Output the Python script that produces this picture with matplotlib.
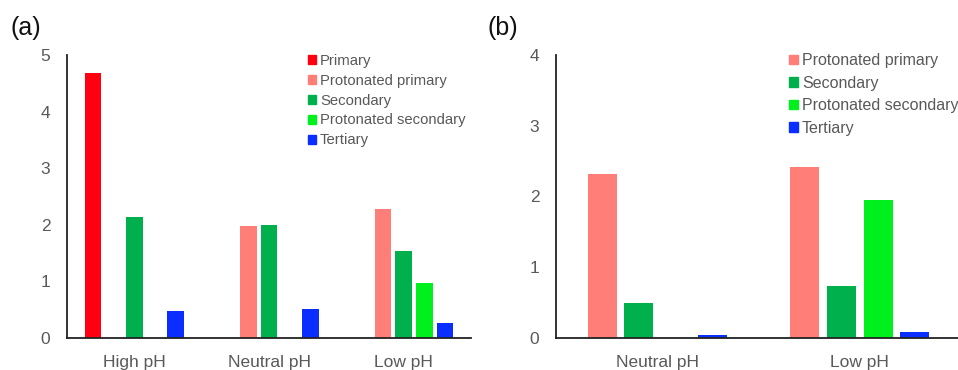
import numpy as np
import matplotlib
matplotlib.use('Agg')
import matplotlib.pyplot as plt
from matplotlib.patches import Patch

plt.rcParams['font.family'] = ['Liberation Sans', 'DejaVu Sans']

# panel (a)
groups_a = ['High pH', 'Neutral pH', 'Low pH']
series_a = ['Primary', 'Protonated primary', 'Secondary', 'Protonated secondary', 'Tertiary']
primary_a = [4.68, 0, 0]
prot_primary_a = [0, 1.97, 2.28]
secondary_a = [2.13, 1.99, 1.53]
prot_secondary_a = [0, 0, 0.98]
tertiary_a = [0.48, 0.51, 0.26]

# panel (b)
groups_b = ['Neutral pH', 'Low pH']
series_b = ['Protonated primary', 'Secondary', 'Protonated secondary', 'Tertiary']
prot_primary_b = [2.32, 2.42]
secondary_b = [0.50, 0.74]
prot_secondary_b = [0, 1.95]
tertiary_b = [0.04, 0.09]

colors = {
    'Primary': '#FF0010',
    'Protonated primary': '#FF7F78',
    'Secondary': '#00B04C',
    'Protonated secondary': '#00F01E',
    'Tertiary': '#0A2EFF',
}
textcol = '#595959'

fig = plt.figure(figsize=(9.58, 3.70), dpi=100)
ax1 = fig.add_axes([67/958, 1-338/370, 404/958, 283/370])
ax2 = fig.add_axes([556/958, 1-338/370, 405/958, 283/370])


def draw(ax, groups, names, data, slot, width, ymax, fs_leg, leg_pos, spacing):
    x = np.arange(len(groups))
    n = len(names)
    for i, (name, vals) in enumerate(zip(names, data)):
        off = (i - (n - 1) / 2) * slot
        ax.bar(x + off, vals, width, color=colors[name], label=name, zorder=2)
    ax.set_xlim(-0.5, len(groups) - 0.5)
    ax.set_ylim(0, ymax)
    ax.set_yticks(range(ymax + 1))
    ax.set_xticks(x)
    ax.set_xticklabels(groups)
    ax.tick_params(length=0, labelsize=12.5, colors=textcol)
    ax.tick_params(axis='y', pad=12)
    ax.tick_params(axis='x', pad=12)
    for s in ['top', 'right']:
        ax.spines[s].set_visible(False)
    for s in ['left', 'bottom']:
        ax.spines[s].set_color('#222222')
        ax.spines[s].set_linewidth(1.3)
    handles = [Patch(color=colors[nm], label=nm) for nm in names]
    leg = fig.legend(handles=handles, loc='upper left', bbox_to_anchor=leg_pos,
                     bbox_transform=fig.transFigure, frameon=False,
                     fontsize=fs_leg, handlelength=0.55, handleheight=0.55,
                     handletextpad=0.25, labelspacing=spacing, borderpad=0,
                     borderaxespad=0)
    for t in leg.get_texts():
        t.set_color(textcol)


draw(ax1, groups_a, series_a,
     [primary_a, prot_primary_a, secondary_a, prot_secondary_a, tertiary_a],
     0.1536, 0.1225, 5, 10.75, (308/958, 1-54/370), 0.39)
draw(ax2, groups_b, series_b,
     [prot_primary_b, secondary_b, prot_secondary_b, tertiary_b],
     0.1806, 0.143, 4, 11.5, (789/958, 1-53/370), 0.47)

fig.text(11/958, 1-28/370, '(a)', fontsize=18, va='center', ha='left', color='#111111')
fig.text(487/958, 1-28/370, '(b)', fontsize=18, va='center', ha='left', color='#111111')

fig.savefig('out.png', dpi=100)
